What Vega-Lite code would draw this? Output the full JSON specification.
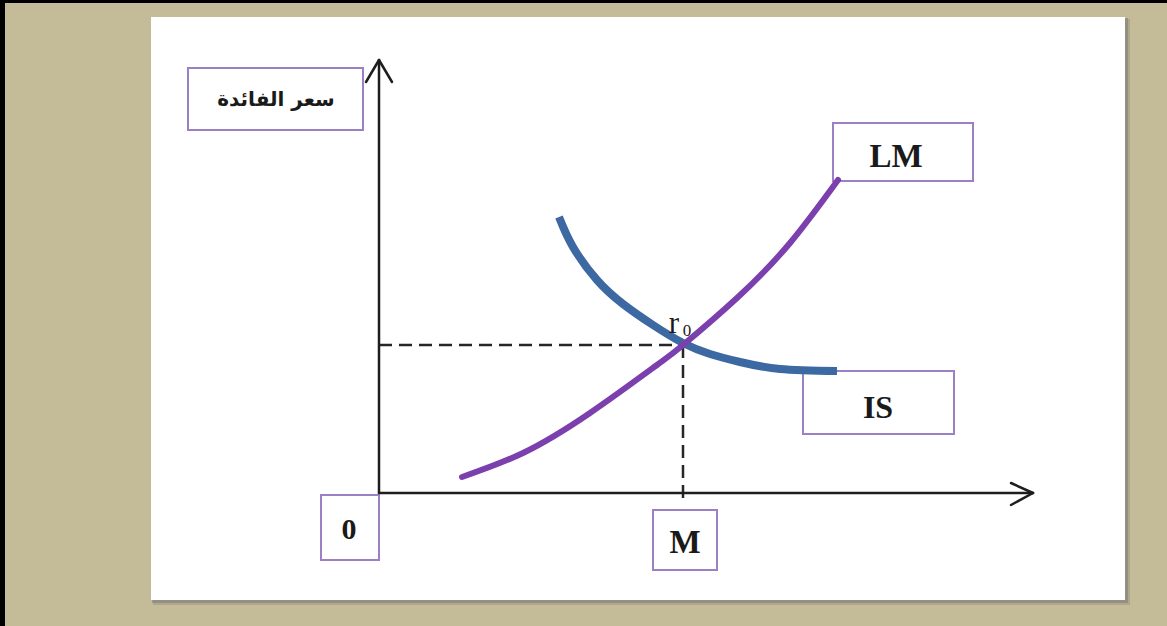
{
  "$schema": "https://vega.github.io/schema/vega-lite/v6.json",
  "width": 1167,
  "height": 626,
  "padding": 0,
  "autosize": {"type": "fit", "contains": "padding"},
  "background": "#c4bb98",
  "config": {"view": {"stroke": null}},
  "datasets": {
    "borders": [
      {"x": -379, "x2": -374, "y": 493, "y2": -133},
      {"x": -379, "x2": 788, "y": 493, "y2": 490}
    ],
    "shadow": [
      {"x": -226, "x2": 751, "y": 474, "y2": -112, "o": 0.25},
      {"x": -227, "x2": 749, "y": 475, "y2": -110, "o": 0.45}
    ],
    "panel": [{"x": -228, "x2": 746, "y": 476, "y2": -107}],
    "boxes": [
      {"label": "yname", "x": -191, "x2": -16, "y": 425, "y2": 363},
      {"label": "LM", "x": 454, "x2": 594, "y": 370, "y2": 312},
      {"label": "IS", "x": 424, "x2": 575, "y": 122, "y2": 59},
      {"label": "0", "x": -58, "x2": 0, "y": -2, "y2": -67},
      {"label": "M", "x": 274, "x2": 338, "y": -17, "y2": -77}
    ],
    "axes": [
      {"x": 0, "y": 0, "x2": 0, "y2": 433},
      {"x": 0, "y": 0, "x2": 654, "y2": 0},
      {"x": -13, "y": 411, "x2": 0, "y2": 433},
      {"x": 13, "y": 411, "x2": 0, "y2": 433},
      {"x": 632, "y": 10, "x2": 654, "y2": 0},
      {"x": 632, "y": -12, "x2": 654, "y2": 0}
    ],
    "dashes": [
      {"x": 0, "y": 148, "x2": 304, "y2": 148},
      {"x": 304, "y": 148, "x2": 304, "y2": -9}
    ],
    "is": [
      {"x": 180, "y": 276},
      {"x": 194, "y": 246},
      {"x": 218, "y": 213},
      {"x": 244, "y": 189},
      {"x": 274, "y": 168},
      {"x": 304, "y": 150},
      {"x": 331, "y": 139},
      {"x": 361, "y": 131},
      {"x": 401, "y": 124},
      {"x": 458, "y": 122}
    ],
    "lm": [
      {"x": 83, "y": 16},
      {"x": 144, "y": 40},
      {"x": 211, "y": 80},
      {"x": 278, "y": 128},
      {"x": 304, "y": 148},
      {"x": 358, "y": 195},
      {"x": 411, "y": 250},
      {"x": 459, "y": 313}
    ],
    "arabic": [
      {"t": "سعر الفائدة", "x": -103, "y": 393}
    ],
    "labels": [
      {"t": "LM", "x": 517, "y": 336, "size": 33},
      {"t": "IS", "x": 499, "y": 85, "size": 32},
      {"t": "0", "x": -30, "y": -37, "size": 30},
      {"t": "M", "x": 306, "y": -50, "size": 33}
    ],
    "rlabel": [
      {"t": "r", "x": 295, "y": 160, "size": 31},
      {"t": "0", "x": 308, "y": 157, "size": 17}
    ]
  },
  "layer": [
    {
      "data": {"name": "borders"},
      "mark": {"type": "rect", "fill": "#000000"},
      "encoding": {
        "x": {"field": "x", "type": "quantitative", "scale": {"domain": [-379, 788], "nice": false, "zero": false}, "axis": null},
        "x2": {"field": "x2"},
        "y": {"field": "y", "type": "quantitative", "scale": {"domain": [-133, 493], "nice": false, "zero": false}, "axis": null},
        "y2": {"field": "y2"}
      }
    },
    {
      "data": {"name": "shadow"},
      "mark": {"type": "rect", "fill": "#707070"},
      "encoding": {
        "x": {"field": "x", "type": "quantitative"},
        "x2": {"field": "x2"},
        "y": {"field": "y", "type": "quantitative"},
        "y2": {"field": "y2"},
        "opacity": {"field": "o", "type": "quantitative", "scale": null}
      }
    },
    {
      "data": {"name": "panel"},
      "mark": {"type": "rect", "fill": "#ffffff"},
      "encoding": {
        "x": {"field": "x", "type": "quantitative"},
        "x2": {"field": "x2"},
        "y": {"field": "y", "type": "quantitative"},
        "y2": {"field": "y2"}
      }
    },
    {
      "data": {"name": "boxes"},
      "mark": {"type": "rect", "fill": "#ffffff", "stroke": "#9b80c6", "strokeWidth": 2},
      "encoding": {
        "x": {"field": "x", "type": "quantitative"},
        "x2": {"field": "x2"},
        "y": {"field": "y", "type": "quantitative"},
        "y2": {"field": "y2"}
      }
    },
    {
      "data": {"name": "dashes"},
      "mark": {"type": "rule", "color": "#262626", "strokeWidth": 2.5, "strokeDash": [13, 7]},
      "encoding": {
        "x": {"field": "x", "type": "quantitative"},
        "x2": {"field": "x2"},
        "y": {"field": "y", "type": "quantitative"},
        "y2": {"field": "y2"}
      }
    },
    {
      "data": {"name": "axes"},
      "mark": {"type": "rule", "color": "#1e1e1e", "strokeWidth": 2.5, "strokeCap": "round"},
      "encoding": {
        "x": {"field": "x", "type": "quantitative"},
        "x2": {"field": "x2"},
        "y": {"field": "y", "type": "quantitative"},
        "y2": {"field": "y2"}
      }
    },
    {
      "data": {"name": "is"},
      "mark": {"type": "line", "color": "#3d69a3", "strokeWidth": 8, "interpolate": "natural", "strokeCap": "butt"},
      "encoding": {
        "x": {"field": "x", "type": "quantitative"},
        "y": {"field": "y", "type": "quantitative"}
      }
    },
    {
      "data": {"name": "lm"},
      "mark": {"type": "line", "color": "#7b3fae", "strokeWidth": 6, "interpolate": "natural", "strokeCap": "round"},
      "encoding": {
        "x": {"field": "x", "type": "quantitative"},
        "y": {"field": "y", "type": "quantitative"}
      }
    },
    {
      "data": {"name": "arabic"},
      "mark": {"type": "text", "font": "DejaVu Sans", "fontWeight": "bold", "fontSize": 20, "color": "#1a1a1a", "align": "center", "baseline": "middle"},
      "encoding": {
        "x": {"field": "x", "type": "quantitative"},
        "y": {"field": "y", "type": "quantitative"},
        "text": {"field": "t"}
      }
    },
    {
      "data": {"name": "labels"},
      "mark": {"type": "text", "font": "Liberation Serif", "fontWeight": "bold", "color": "#1a1a1a", "align": "center", "baseline": "middle"},
      "encoding": {
        "x": {"field": "x", "type": "quantitative"},
        "y": {"field": "y", "type": "quantitative"},
        "text": {"field": "t"},
        "size": {"field": "size", "type": "quantitative", "scale": null}
      }
    },
    {
      "data": {"name": "rlabel"},
      "mark": {"type": "text", "font": "Liberation Serif", "color": "#1a1a1a", "align": "center", "baseline": "alphabetic"},
      "encoding": {
        "x": {"field": "x", "type": "quantitative"},
        "y": {"field": "y", "type": "quantitative"},
        "text": {"field": "t"},
        "size": {"field": "size", "type": "quantitative", "scale": null}
      }
    }
  ]
}
